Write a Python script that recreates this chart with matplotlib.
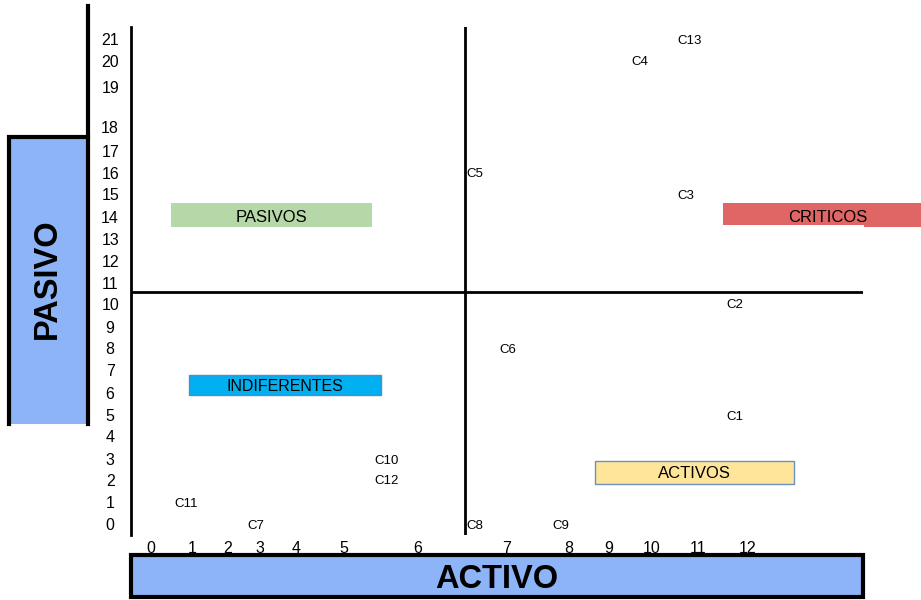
import numpy as np
import matplotlib.pyplot as plt
from matplotlib.patches import Rectangle

plt.rcParams['font.family'] = ['Liberation Sans', 'DejaVu Sans']

# puntos de la matriz (activo = x, pasivo = y)
etiquetas = ['C1', 'C2', 'C3', 'C4', 'C5', 'C6', 'C7',
             'C8', 'C9', 'C10', 'C11', 'C12', 'C13']
activo = [11.73, 11.73, 10.72, 9.72, 6.64, 7.02, 2.87,
          6.64, 7.88, 5.57, 0.85, 5.57, 10.8]
pasivo = [5, 10, 15, 20, 16, 8, 0, 0, 0, 3, 1, 2, 21]

# lineas que dividen los cuadrantes
corte_activo = 6.53
corte_pasivo = 10.56

xticks = list(range(0, 13))
yticks = list(range(0, 22))

# la escala no es uniforme: posicion (px) de cada marca de los ejes
pos_x = [151, 192, 227.5, 259.5, 296, 344, 418, 506.5, 568.5, 608.5, 652, 698.5, 748]
pos_y = [524.3, 502.3, 480, 459, 435.7, 415, 392.7, 370, 348.3, 326.7, 304,
         282.7, 260.7, 238.7, 216.7, 194.3, 172.7, 150.7, 127.3, 86.7, 60.7, 39.3]
pos_y = [600 - p for p in pos_y]


def escala(vals, pos):
    vals = np.asarray(vals, float)
    pos = np.asarray(pos, float)

    def lineal(v, a, b):
        v = np.asarray(v, float)
        out = np.interp(v, a, b)
        m0 = (b[1] - b[0]) / (a[1] - a[0])
        m1 = (b[-1] - b[-2]) / (a[-1] - a[-2])
        out = np.where(v < a[0], b[0] + (v - a[0]) * m0, out)
        out = np.where(v > a[-1], b[-1] + (v - a[-1]) * m1, out)
        return out

    return (lambda v: lineal(v, vals, pos)), (lambda p: lineal(p, pos, vals))


fwd_x, inv_x = escala(xticks, pos_x)
fwd_y, inv_y = escala(yticks, pos_y)

W, H = 921, 600
fig = plt.figure(figsize=(W / 100, H / 100), dpi=100)

ax = fig.add_axes([131 / W, 65 / H, (863 - 131) / W, (535 - 27) / H])
ax.patch.set_alpha(0)
ax.set_xscale('function', functions=(fwd_x, inv_x))
ax.set_yscale('function', functions=(fwd_y, inv_y))
ax.set_xlim(float(inv_x(131)), float(inv_x(863)))
ax.set_ylim(float(inv_y(65)), float(inv_y(573)))

for s in ['top', 'right', 'bottom']:
    ax.spines[s].set_visible(False)
ax.spines['left'].set_linewidth(2)

ax.set_xticks(xticks)
ax.set_xticklabels([str(t) for t in xticks])
ax.set_yticks(yticks)
ax.set_yticklabels([str(t) for t in yticks])
ax.tick_params(axis='x', length=0, pad=4, labelsize=11.5)
ax.tick_params(axis='y', length=0, pad=15, labelsize=11.5)
for lbl in ax.get_yticklabels():
    lbl.set_horizontalalignment('center')
ax.minorticks_off()

ax.axvline(corte_activo, color='black', lw=2)
ax.axhline(corte_pasivo, color='black', lw=2)

for nombre, xa, yp in zip(etiquetas, activo, pasivo):
    ax.text(xa, yp, nombre, ha='center', va='center_baseline', fontsize=9.5)

# cajas de titulo y de cuadrante
deco = fig.add_axes([0, 0, 1, 1], zorder=5)
deco.set_xlim(0, W)
deco.set_ylim(H, 0)
deco.axis('off')
deco.patch.set_alpha(0)

azul = '#8db4f7'


def caja(x0, y0, x1, y1, color, borde='none', lw=0):
    deco.add_patch(Rectangle((x0, y0), x1 - x0, y1 - y0, facecolor=color,
                             edgecolor=borde, linewidth=lw))


# eje activo
caja(131, 555, 863, 597, azul, 'black', 3)
deco.text(497, 576.5, 'ACTIVO', ha='center', va='center_baseline', fontsize=23.5,
          fontweight='bold')

# eje pasivo
caja(9, 137, 88, 424, azul)
deco.plot([9, 9, 88, 88], [424, 137, 137, 424], color='black', lw=3,
          solid_joinstyle='miter')
deco.plot([88, 88], [6, 137], color='black', lw=3)
deco.text(47, 279, 'PASIVO', ha='center', va='center', fontsize=23.5,
          fontweight='bold', rotation=90)

caja(171, 203, 372, 227, '#b6d7a8')
deco.text(271, 216, 'PASIVOS', ha='center', va='center_baseline', fontsize=12)

caja(189, 375, 381, 395, '#00b0f0', '#5b87c5', 1)
deco.text(285, 385, 'INDIFERENTES', ha='center', va='center_baseline', fontsize=11.5)

caja(723, 203, 921, 225, '#e06666')
caja(864, 203, 921, 227, '#e06666')
deco.text(828, 216, 'CRITICOS', ha='center', va='center_baseline', fontsize=12)

caja(594.5, 461, 793.5, 483.5, '#ffe599', '#6d8fc0', 1)
deco.text(694, 472, 'ACTIVOS', ha='center', va='center_baseline', fontsize=12)

fig.savefig('out.png', dpi=100)
